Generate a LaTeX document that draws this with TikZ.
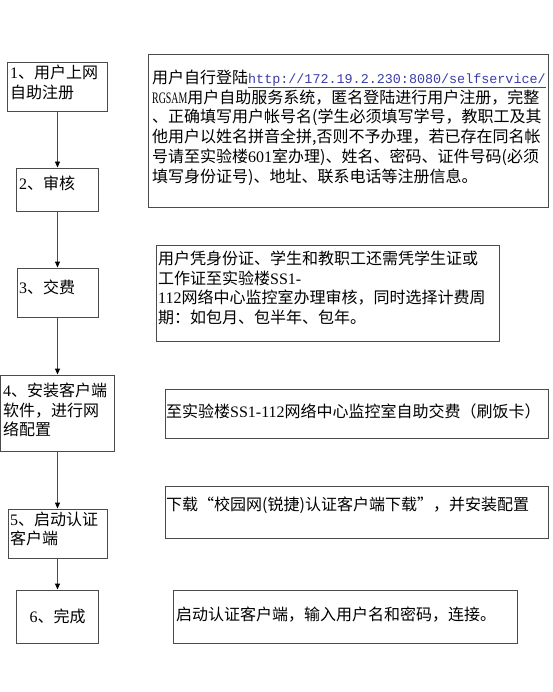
\documentclass[tikz,border=0pt]{standalone}
\usepackage{fontspec}
\setmainfont{Noto Sans CJK SC}
\newfontfamily\latinfont{Liberation Serif}
\newfontfamily\narrowfont[FakeStretch=0.62]{Liberation Serif}
\newfontfamily\urlfont{Liberation Mono}
\usetikzlibrary{arrows.meta}
\definecolor{linegray}{RGB}{75,75,75}
\definecolor{urlblue}{RGB}{60,60,170}
\newcommand{\latn}[1]{{\latinfont #1}}
\newcommand{\weblink}[1]{{\color{urlblue}\urlfont\fontsize{13.4}{19.8}\selectfont\underline{#1}}}
\tikzset{
  stepbox/.style={
    rectangle,
    draw=linegray,
    line width=0.9pt,
    inner sep=0pt
  },
  notebox/.style={
    rectangle,
    draw=linegray,
    line width=0.9pt,
    inner sep=0pt
  },
  txt/.style={
    anchor=north west,
    align=left,
    inner sep=0pt,
    font=\fontsize{16}{19.8}\selectfont
  },
  arrow/.style={-{Triangle[length=6pt,width=5pt,color=black]}, draw=linegray, line width=0.9pt}
}
\begin{document}
\begin{tikzpicture}[x=1pt, y=-1pt]
  \useasboundingbox (0,0) rectangle (553,692);

  % steps on the left
  \node[stepbox, minimum width=100pt, minimum height=49pt] (s1) at (57.5,86.5) {};
  \node[stepbox, minimum width=82pt, minimum height=43pt] (s2) at (57.5,189.5) {};
  \node[stepbox, minimum width=81pt, minimum height=49pt] (s3) at (57.5,292.5) {};
  \node[stepbox, minimum width=114pt, minimum height=76pt] (s4) at (57.5,413) {};
  \node[stepbox, minimum width=99pt, minimum height=49pt] (s5) at (57.5,533.5) {};
  \node[stepbox, minimum width=82pt, minimum height=53pt,
        font=\fontsize{16}{19.8}\selectfont] (s6) at (57.5,616.5) {\latn{6}、完成};

  \node[txt] (t1) at (10,64.5) {\latn{1}、用户上网\\自助注册};
  \node[txt] (t2) at (19,175.5) {\latn{2}、审核};
  \node[txt] (t3) at (19,279.5) {\latn{3}、交费};
  \node[txt] (t4) at (3,382.5) {\latn{4}、安装客户端\\软件，进行网\\络配置};
  \node[txt] (t5) at (10,511.5) {\latn{5}、启动认证\\客户端};

  % notes on the right
  \node[notebox, minimum width=400pt, minimum height=153pt] (n1) at (348,130.5) {};
  \node[notebox, minimum width=343pt, minimum height=96pt] (n2) at (327.5,293) {};
  \node[notebox, minimum width=383pt, minimum height=49pt] (n3) at (356.5,413.5) {};
  \node[notebox, minimum width=383pt, minimum height=52pt] (n4) at (356.5,512) {};
  \node[notebox, minimum width=344pt, minimum height=53pt] (n5) at (345,616.5) {};

  \node[txt] (u1) at (152,69.5)
        {用户自行登陆\weblink{http://172.19.2.230:8080/selfservice/}\\
         {\narrowfont RGSAM}用户自助服务系统，匿名登陆进行用户注册，完整\\
         、正确填写用户帐号名(学生必须填写学号，教职工及其\\
         他用户以姓名拼音全拼,否则不予办理，若已存在同名帐\\
         号请至实验楼\latn{601}室办理)、姓名、密码、证件号码(必须\\
         填写身份证号)、地址、联系电话等注册信息。};
  \node[txt] (u2) at (158,250.5)
        {用户凭身份证、学生和教职工还需凭学生证或\\
         工作证至实验楼\latn{SS1-}\\
         \latn{112}网络中心监控室办理审核，同时选择计费周\\
         期：如包月、包半年、包年。};
  \node[txt] (u3) at (166,403.5) {至实验楼\latn{SS1-112}网络中心监控室自助交费（刷饭卡）};
  \node[txt] (u4) at (166,496.5) {下载“校园网(锐捷)认证客户端下载”，并安装配置};
  \node[txt] (u5) at (176,606.5) {启动认证客户端，输入用户名和密码，连接。};

  \draw[arrow] (s1) -- (s2);
  \draw[arrow] (s2) -- (s3);
  \draw[arrow] (s3) -- (s4);
  \draw[arrow] (s4) -- (s5);
  \draw[arrow] (s5) -- (s6);
\end{tikzpicture}
\end{document}
